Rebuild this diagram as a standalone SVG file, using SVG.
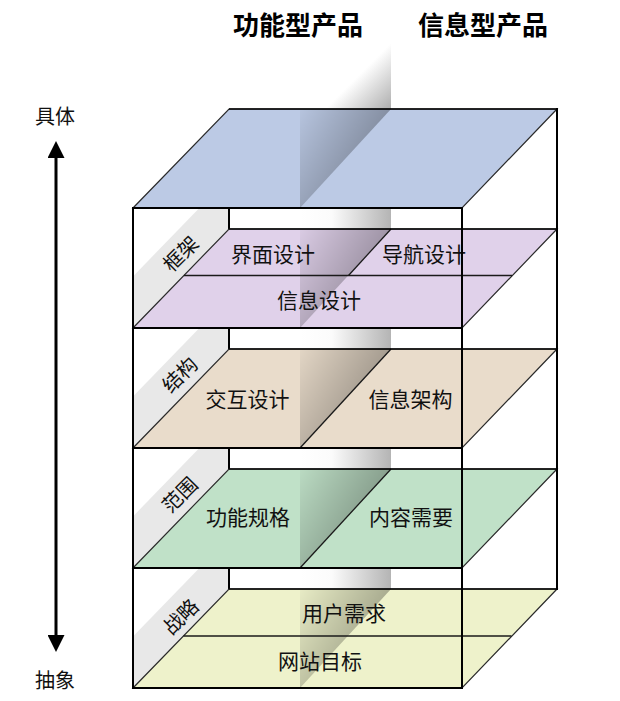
<svg xmlns="http://www.w3.org/2000/svg" width="620" height="701" viewBox="0 0 620 701">
<defs>
<style>
.plane{stroke:#2a2a2a;stroke-width:1.2;stroke-linejoin:miter}
.box{stroke:#000;stroke-width:2;fill:none}
.edge{stroke:#000;stroke-width:1.6;fill:none}
.split{stroke:#1a1a1a;stroke-width:1.3;fill:none}
.strip{fill:#e8e8e8}
.t{font-family:'Liberation Sans','Noto Sans CJK SC',sans-serif;font-size:21px;fill:#111;text-anchor:middle}
.rt{font-family:'Liberation Sans','Noto Sans CJK SC',sans-serif;font-size:20px;fill:#111;text-anchor:middle;dominant-baseline:central}
.title{font-family:'Liberation Sans','Noto Sans CJK SC',sans-serif;font-size:26px;font-weight:bold;fill:#000;text-anchor:middle}
.axis{font-family:'Liberation Sans','Noto Sans CJK SC',sans-serif;font-size:20px;fill:#111;text-anchor:middle}
.ov{fill:url(#ovg)}
</style>
<linearGradient id="topg" gradientUnits="userSpaceOnUse" x1="357" y1="77" x2="391" y2="111">
<stop offset="0" stop-color="#ffffff"/>
<stop offset="1" stop-color="#ababab"/>
</linearGradient>
<linearGradient id="gapg" x1="0" y1="0" x2="1" y2="0">
<stop offset="0" stop-color="#ffffff"/>
<stop offset="0.35" stop-color="#fbfbfb"/>
<stop offset="1" stop-color="#b4b4b4"/>
</linearGradient>
<linearGradient id="ovg" x1="0" y1="0" x2="0.72" y2="0.45">
<stop offset="0" stop-color="#000" stop-opacity="0.03"/>
<stop offset="1" stop-color="#000" stop-opacity="0.29"/>
</linearGradient>
<marker id="ah" viewBox="0 0 20 17" refX="2" refY="8.5" markerWidth="20" markerHeight="17" markerUnits="userSpaceOnUse" orient="auto-start-reverse">
<path d="M0,0 L17,8.5 L0,17 Z" fill="#000"/>
</marker>
</defs>
<rect width="620" height="701" fill="#fff"/>

<!-- central band backgrounds -->
<g id="band">
<rect x="300" y="20" width="91" height="90" fill="url(#topg)"/>
<rect x="300" y="207" width="91" height="23" fill="url(#gapg)"/>
<rect x="300" y="327" width="91" height="23" fill="url(#gapg)"/>
<rect x="300" y="447" width="91" height="23" fill="url(#gapg)"/>
<rect x="300" y="567" width="91" height="23" fill="url(#gapg)"/>
</g>

<!-- label strips -->
<g id="strips">
<polygon class="strip" points="229,177.4 229,229 133,328 133,276.4"/>
<polygon class="strip" points="229,297.4 229,349 133,448 133,396.4"/>
<polygon class="strip" points="229,417.4 229,469 133,568 133,516.4"/>
<polygon class="strip" points="229,537.4 229,589 133,688 133,636.4"/>
</g>

<!-- back-left vertical edge -->
<line class="box" x1="229" y1="207" x2="229" y2="590"/>

<g id="layer-top">
<polygon class="plane" fill="#bccae5" points="229,109 557,109 462,208 133,208"/>
<polygon class="ov" points="300,109 391,109 300,208"/>
</g>

<g id="layer-kuangjia">
<polygon class="plane" fill="#e0d1ea" points="229,229 557,229 462,328 133,328"/>
<polygon class="ov" points="300,229 391,229 300,328"/>
<line class="split" x1="391" y1="229" x2="348.5" y2="275.5"/>
<line class="split" x1="184" y1="275.5" x2="512" y2="275.5"/>
<text class="t" x="273" y="261.5">界面设计</text>
<text class="t" x="424" y="261.5">导航设计</text>
<text class="t" x="319" y="308">信息设计</text>
<text class="rt" transform="translate(181,254) rotate(-45)">框架</text>
</g>

<g id="layer-jiegou">
<polygon class="plane" fill="#e9dccb" points="229,349 557,349 462,448 133,448"/>
<polygon class="ov" points="300,349 391,349 300,448"/>
<line class="split" x1="391" y1="349" x2="300" y2="448"/>
<text class="t" x="247.5" y="407">交互设计</text>
<text class="t" x="410.5" y="407">信息架构</text>
<text class="rt" transform="translate(180,375) rotate(-45)">结构</text>
</g>

<g id="layer-fanwei">
<polygon class="plane" fill="#c0e1c8" points="229,469 557,469 462,568 133,568"/>
<polygon class="ov" points="300,469 391,469 300,568"/>
<line class="split" x1="391" y1="469" x2="300" y2="568"/>
<text class="t" x="248" y="525">功能规格</text>
<text class="t" x="411" y="525">内容需要</text>
<text class="rt" transform="translate(180,495) rotate(-45)">范围</text>
</g>

<g id="layer-zhanlue">
<polygon class="plane" fill="#eef2cb" points="229,589 557,589 462,688 133,688"/>
<polygon class="ov" points="300,589 391,589 300,688"/>
<line class="split" x1="183.5" y1="636" x2="511.5" y2="636"/>
<text class="t" x="344" y="621">用户需求</text>
<text class="t" x="320" y="669">网站目标</text>
<text class="rt" transform="translate(181,617) rotate(-45)">战略</text>
</g>

<!-- box frame -->
<g id="frame">
<rect class="box" x="133" y="208" width="329" height="480"/>
<line class="box" x1="133" y1="328" x2="462" y2="328"/>
<line class="box" x1="133" y1="448" x2="462" y2="448"/>
<line class="box" x1="133" y1="568" x2="462" y2="568"/>
<line class="box" x1="557" y1="108" x2="557" y2="590"/>
<line class="edge" x1="229" y1="109" x2="557" y2="109"/>
<line class="edge" x1="229" y1="229" x2="557" y2="229"/>
<line class="edge" x1="229" y1="349" x2="557" y2="349"/>
<line class="edge" x1="229" y1="469" x2="557" y2="469"/>
<line class="edge" x1="229" y1="589" x2="557" y2="589"/>
</g>

<g id="titles">
<text class="title" x="298" y="35">功能型产品</text>
<text class="title" x="483" y="35">信息型产品</text>
</g>

<g id="axis-labels">
<text class="axis" x="55" y="124">具体</text>
<text class="axis" x="55" y="688">抽象</text>
</g>

<g id="connectors">
<line x1="56" y1="156" x2="56" y2="637" stroke="#000" stroke-width="3" marker-start="url(#ah)" marker-end="url(#ah)"/>
</g>
</svg>
